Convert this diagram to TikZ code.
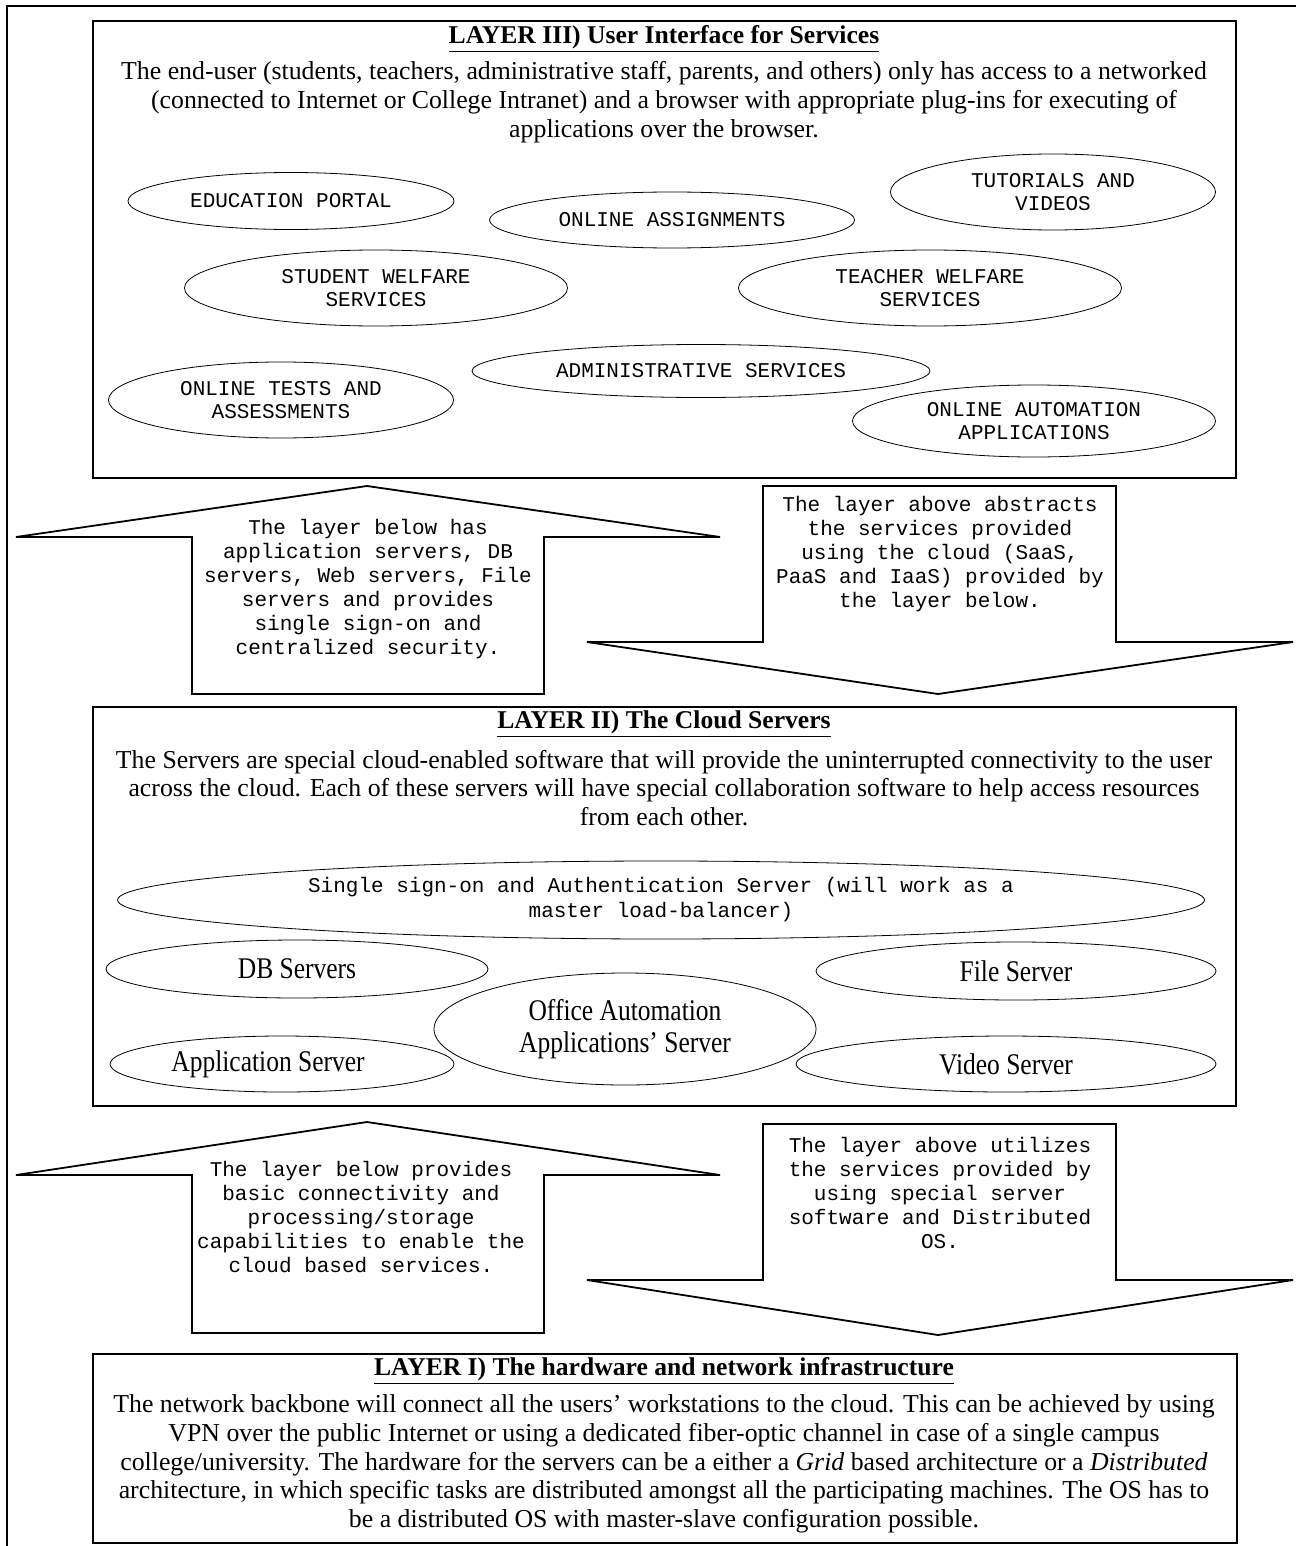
\documentclass[tikz,border=0pt]{standalone}
\usepackage{fontspec}
\setmainfont{Liberation Serif}
\newfontfamily\crfont{Liberation Mono}
\usepackage{graphicx}
\usetikzlibrary{shapes.geometric}

\begin{document}
\begin{tikzpicture}[x=0.5pt,y=-0.5pt,
  layerbox/.style={draw,line width=0.9pt},
  blockarrow/.style={draw,line width=0.9pt,line join=miter},
  layertitle/.style={font=\bfseries\fontsize{12.8}{15}\selectfont},
  bodytext/.style={align=center,font=\fontsize{12.9}{14.4}\selectfont},
  svc/.style={draw,ellipse,inner sep=0pt,align=center,font=\crfont\fontsize{10.5}{11.5}\selectfont},
  srv/.style={draw,ellipse,inner sep=0pt,align=center,font=\fontsize{15}{16}\selectfont},
  arrowtext/.style={align=center,font=\crfont\fontsize{10.5}{12}\selectfont}]
 \useasboundingbox (0,0) rectangle (1296,1546);
 \draw [line width=0.9pt] (7,1546) -- (7,6) -- (1296,6); % 外枠(左と上)

 % LAYER III
 \coordinate (L3a) at (93,21); \coordinate (L3b) at (1236,478);
 \draw [layerbox] (L3a) rectangle (L3b);
 \node [layertitle] (T3) at (664,39) {\underline{LAYER III) User Interface for Services}};
 \node [bodytext] (B3) at (664,102) {The end-user (students, teachers, administrative staff, parents, and others) only has access to a networked\\
  (connected to Internet or College Intranet) and a browser with appropriate plug-ins for executing of\\
  applications over the browser.};
 \node [svc, minimum width=163pt, minimum height=28.5pt] (edu) at (291,201) {EDUCATION PORTAL};
 \node [svc, minimum width=182.5pt, minimum height=28pt] (assign) at (672,220) {ONLINE ASSIGNMENTS};
 \node [svc, minimum width=162.5pt, minimum height=38pt] (tut) at (1053,192) {TUTORIALS AND\\VIDEOS};
 \node [svc, minimum width=191.5pt, minimum height=38pt] (stud) at (376,288) {STUDENT WELFARE\\SERVICES};
 \node [svc, minimum width=191.5pt, minimum height=38pt] (teach) at (930,288) {TEACHER WELFARE\\SERVICES};
 \node [svc, minimum width=229pt, minimum height=26.5pt] (admin) at (701,371) {ADMINISTRATIVE SERVICES};
 \node [svc, minimum width=172.5pt, minimum height=38pt] (tests) at (281,400) {ONLINE TESTS AND\\ASSESSMENTS};
 \node [svc, minimum width=181.5pt, minimum height=36pt] (auto) at (1034,421) {ONLINE AUTOMATION\\APPLICATIONS};

 % 上向き矢印1
 \coordinate (U1) at (367,486); \coordinate (U2) at (720,537); \coordinate (U3) at (544,537);
 \coordinate (U4) at (544,694); \coordinate (U5) at (192,694); \coordinate (U6) at (192,537);
 \coordinate (U7) at (16,537);
 \draw [blockarrow] (U1) -- (U2) -- (U3) -- (U4) -- (U5) -- (U6) -- (U7) -- cycle;
 \node [arrowtext] (up1) at (368,589) {The layer below has\\application servers, DB\\servers, Web servers, File\\servers and provides\\single sign-on and\\centralized security.};

 % 下向き矢印1
 \coordinate (D1) at (763,486); \coordinate (D2) at (1116,486); \coordinate (D3) at (1116,642);
 \coordinate (D4) at (1293,642); \coordinate (D5) at (938,694); \coordinate (D6) at (587,642);
 \coordinate (D7) at (763,642);
 \draw [blockarrow] (D1) -- (D2) -- (D3) -- (D4) -- (D5) -- (D6) -- (D7) -- cycle;
 \node [arrowtext] (down1) at (940,554) {The layer above abstracts\\the services provided\\using the cloud (SaaS,\\PaaS and IaaS) provided by\\the layer below.};

 % LAYER II
 \coordinate (L2a) at (93,707); \coordinate (L2b) at (1236,1106);
 \draw [layerbox] (L2a) rectangle (L2b);
 \node [layertitle] (T2) at (664,724) {\underline{LAYER II) The Cloud Servers}};
 \node [bodytext] (B2) at (664,788) {The Servers are special cloud-enabled software that will provide the uninterrupted connectivity to the user\\
  across the cloud. Each of these servers will have special collaboration software to help access resources\\
  from each other.};
 \node [svc, minimum width=543.5pt, minimum height=39pt, font=\crfont\fontsize{10.5}{12.5}\selectfont] (sso) at (661,900) {Single sign-on and Authentication Server (will work as a\\master load-balancer)};
 \node [srv, minimum width=191pt, minimum height=29pt] (db) at (297,969) {\scalebox{0.85}[1]{DB Servers}};
 \node [srv, minimum width=200pt, minimum height=29pt] (file) at (1016,971) {\scalebox{0.85}[1]{File Server}};
 \node [srv, minimum width=191pt, minimum height=56pt] (office) at (625,1029) {\scalebox{0.85}[1]{Office Automation}\\\scalebox{0.85}[1]{Applications’ Server}};
 \node [srv, minimum width=172pt, minimum height=28pt] (app) at (282,1064) {\scalebox{0.85}[1]{Application Server}\hspace{14pt}};
 \node [srv, minimum width=210pt, minimum height=28pt] (video) at (1006,1064) {\scalebox{0.85}[1]{Video Server}};

 % 上向き矢印2
 \coordinate (V1) at (367,1122); \coordinate (V2) at (720,1175); \coordinate (V3) at (544,1175);
 \coordinate (V4) at (544,1333); \coordinate (V5) at (192,1333); \coordinate (V6) at (192,1175);
 \coordinate (V7) at (16,1175);
 \draw [blockarrow] (V1) -- (V2) -- (V3) -- (V4) -- (V5) -- (V6) -- (V7) -- cycle;
 \node [arrowtext] (up2) at (361,1217) {The layer below provides\\basic connectivity and\\processing/storage\\capabilities to enable the\\cloud based services.};

 % 下向き矢印2
 \coordinate (E1) at (763,1124); \coordinate (E2) at (1116,1124); \coordinate (E3) at (1116,1280);
 \coordinate (E4) at (1293,1280); \coordinate (E5) at (938,1335); \coordinate (E6) at (587,1280);
 \coordinate (E7) at (763,1280);
 \draw [blockarrow] (E1) -- (E2) -- (E3) -- (E4) -- (E5) -- (E6) -- (E7) -- cycle;
 \node [arrowtext] (down2) at (940,1193) {The layer above utilizes\\the services provided by\\using special server\\software and Distributed\\OS.};

 % LAYER I
 \coordinate (L1a) at (93,1354); \coordinate (L1b) at (1237,1543);
 \draw [layerbox] (L1a) rectangle (L1b);
 \node [layertitle] (T1) at (664,1371) {\underline{LAYER I) The hardware and network infrastructure}};
 \node [bodytext] (B1) at (664,1464) {The network backbone will connect all the users’ workstations to the cloud. This can be achieved by using\\
  VPN over the public Internet or using a dedicated fiber-optic channel in case of a single campus\\
  college/university. The hardware for the servers can be a either a \textit{Grid} based architecture or a \textit{Distributed}\\
  architecture, in which specific tasks are distributed amongst all the participating machines. The OS has to\\
  be a distributed OS with master-slave configuration possible.};
\end{tikzpicture}
\end{document}
